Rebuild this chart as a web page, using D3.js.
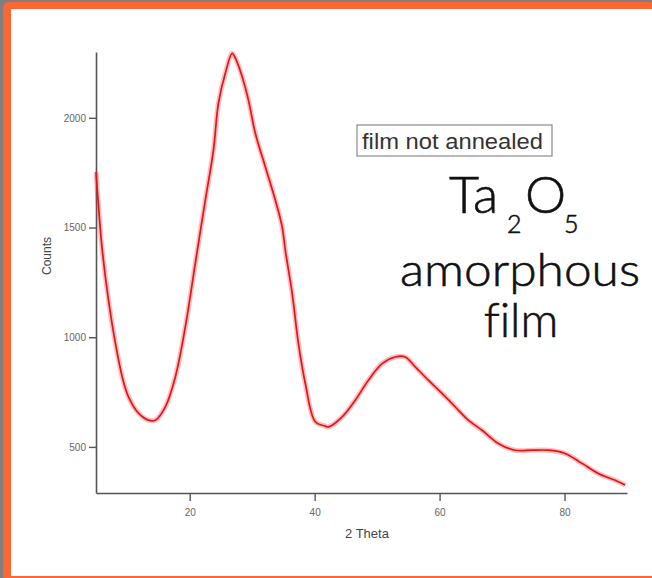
<!DOCTYPE html>
<html><head><meta charset="utf-8">
<script src="https://cdn.jsdelivr.net/npm/d3@7"></script>
<style>
html,body{margin:0;padding:0;background:#7f7f7f;}
svg{display:block;}
text{font-variant-ligatures:none;}
</style></head>
<body>
<svg id="chart" width="652" height="578"></svg>
<script>
// ---- data ----
const theta = [5.0,5.5,6.0,7.0,8.1,9.2,10.2,11.8,13.4,14.5,16.1,17.7,19.3,20.9,22.5,23.8,24.6,25.7,26.8,27.5,28.4,29.4,30.5,32.1,33.7,34.8,35.3,36.4,37.4,38.5,40.1,41.7,42.2,44.4,46.5,48.6,50.8,52.9,54.5,56.1,58.2,60.4,62.5,64.6,66.8,69.4,72.1,74.8,77.4,80.1,82.8,85.4,88.1,89.7];
const counts = [1753,1560,1397,1169,973,819,728,654,622,622,683,819,1047,1338,1625,1853,2067,2203,2294,2260,2187,2081,1930,1777,1625,1503,1397,1200,972,790,615,595,591,637,713,804,880,910,910,865,804,744,683,622,576,516,485,485,485,470,425,379,348,326];
const xTicks = [20,40,60,80];
const yTicks = [500,1000,1500,2000];
const xLabel = "2 Theta";
const yLabel = "Counts";
const legendText = "film not annealed";

const svg = d3.select("#chart");
// frame
svg.append("rect").attr("x",0).attr("y",0).attr("width",652).attr("height",578).attr("fill","#7f7f7f");
svg.append("rect").attr("x",3).attr("y",2).attr("width",652).attr("height",580).attr("rx",6).attr("fill","#fe6734");
svg.append("rect").attr("x",11).attr("y",9).attr("width",641).attr("height",567).attr("fill","#ffffff");

const x = d3.scaleLinear().domain([5,90]).range([96,627]);
const y = d3.scaleLinear().domain([290,2300]).range([493,52]);

const axisColor = "#555";
const fmt = d3.format("d");
// x axis
const gx = svg.append("g").attr("transform","translate(0,493)")
  .call(d3.axisBottom(x).tickValues(xTicks).tickFormat(fmt).tickSize(8).tickSizeOuter(0).tickPadding(8));
// y axis
const gy = svg.append("g").attr("transform","translate(96,0)")
  .call(d3.axisLeft(y).tickValues(yTicks).tickFormat(fmt).tickSize(7).tickSizeOuter(0).tickPadding(3));
[gx,gy].forEach(g=>{
  g.select(".domain").attr("stroke",axisColor).attr("stroke-width",1.6);
  g.selectAll(".tick line").attr("stroke",axisColor).attr("stroke-width",1.4);
  g.selectAll(".tick text").attr("fill","#666").attr("font-family","Liberation Sans, Arial, sans-serif").attr("font-size",10);
});

svg.append("text").attr("x",367).attr("y",538).attr("text-anchor","middle")
  .attr("font-family","Liberation Sans, Arial, sans-serif").attr("font-size",13).attr("fill","#444").text(xLabel);
svg.append("text").attr("transform","translate(51,256) rotate(-90)").attr("text-anchor","middle")
  .attr("font-family","Liberation Sans, Arial, sans-serif").attr("font-size",12).attr("fill","#444").text(yLabel);

// data line
const pts = theta.map((t,i)=>[t,counts[i]]);
const line = d3.line().x(d=>x(d[0])).y(d=>y(d[1])).curve(d3.curveCatmullRom.alpha(0.5));
svg.append("path").attr("d",line(pts)).attr("fill","none").attr("stroke","#ee2a2a").attr("stroke-opacity",0.3).attr("stroke-width",5).attr("stroke-linejoin","round");
svg.append("path").attr("d",line(pts)).attr("fill","none").attr("stroke","#e3141b").attr("stroke-width",1.7).attr("stroke-linejoin","round");

// legend box
svg.append("rect").attr("x",357).attr("y",125).attr("width",195).attr("height",31)
  .attr("fill","#fff").attr("stroke","#8a8a8a").attr("stroke-width",1.2);
svg.append("text").attr("x",362).attr("y",149).attr("font-family","Liberation Sans, Arial, sans-serif")
  .attr("font-size",22).attr("fill","#333").attr("textLength",181).attr("lengthAdjust","spacingAndGlyphs").text(legendText);

// big annotation
const big = "Lato, 'Open Sans', sans-serif";
function bigText(sel){ return sel.attr("font-family",big).attr("font-weight",300).attr("fill","#111").attr("stroke","#111").attr("stroke-width",0.6); }
const t1 = bigText(svg.append("text"));
t1.append("tspan").attr("x",449).attr("y",213).attr("font-size",52).text("Ta");
t1.append("tspan").attr("x",507).attr("y",233).attr("font-size",25).text("2");
t1.append("tspan").attr("x",525).attr("y",213).attr("font-size",52).text("O");
t1.append("tspan").attr("x",564).attr("y",233).attr("font-size",25).text("5");
bigText(svg.append("text")).attr("x",400).attr("y",286).attr("font-size",46)
  .attr("textLength",240).attr("lengthAdjust","spacingAndGlyphs").text("amorphous");
bigText(svg.append("text")).attr("x",521).attr("y",337).attr("text-anchor","middle").attr("font-size",47).text("film");
</script>
</body></html>
